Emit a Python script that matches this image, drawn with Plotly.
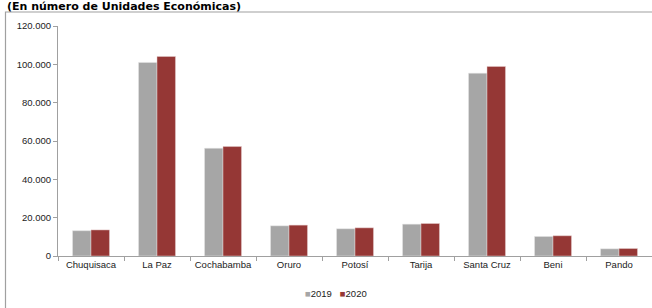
import plotly.graph_objects as go

categories = ["Chuquisaca", "La Paz", "Cochabamba", "Oruro", "Potosí", "Tarija", "Santa Cruz", "Beni", "Pando"]
values_2019 = [13200, 101000, 56200, 15750, 14200, 16600, 95400, 10200, 3750]
values_2020 = [13600, 104100, 57100, 16100, 14700, 16950, 98900, 10550, 3900]
y_ticks = [0, 20000, 40000, 60000, 80000, 100000, 120000]
series_names = ["2019", "2020"]
series_colors = ["#A6A6A6", "#953735"]

W, H = 652, 308
L, R, T, B = 58, 0, 26, 52
pw, ph = W - L - R, H - T - B

def px_x(x):
    return (x - L) / pw

def px_y(y):
    return (H - B - y) / ph

fig = go.Figure()
for name, vals, col, edge in zip(series_names, [values_2019, values_2020], series_colors,
                                 ["#E6E6E6", "#E6CFCF"]):
    fig.add_trace(go.Bar(x=categories, y=vals, name=name,
                         marker=dict(color=col, line=dict(color=edge, width=0.5))))

font_axis = dict(family="Liberation Sans, Arial, sans-serif", size=9.5, color="#222222")

fig.update_layout(
    width=W, height=H,
    margin=dict(l=L, r=R, t=T, b=B, pad=0, autoexpand=False),
    paper_bgcolor="white", plot_bgcolor="white",
    separators=",.",
    barmode="group", bargap=0.44, bargroupgap=0,
    showlegend=False,
    xaxis=dict(type="category", tickson="boundaries", ticks="outside", ticklen=4,
               tickcolor="#A0A0A0", showline=True, linecolor="#A0A0A0", linewidth=1,
               showgrid=False, tickfont=font_axis, tickangle=0, automargin=False,
               fixedrange=True),
    yaxis=dict(range=[0, 120000], tickvals=y_ticks, tickformat=",d", ticks="outside",
               ticklen=4, tickcolor="#A0A0A0", showline=True, linecolor="#A0A0A0",
               linewidth=1, showgrid=False, zeroline=False, tickfont=font_axis,
               automargin=False, fixedrange=True),
    font=font_axis,
)

fig.add_shape(type="rect", xref="paper", yref="paper",
              x0=px_x(5.5), x1=px_x(700), y0=px_y(12), y1=px_y(400),
              line=dict(color="#A0A0A0", width=1.2), fillcolor="rgba(0,0,0,0)", layer="below")

fig.add_annotation(text="<b>(En número de Unidades Económicas)</b>", xref="paper", yref="paper",
                   x=px_x(5), y=px_y(6), xanchor="left", yanchor="middle", showarrow=False,
                   font=dict(family="DejaVu Sans, Verdana, sans-serif", size=11, color="#000000"))

legend_text = "&nbsp;&nbsp;&nbsp;".join(
    f"<span style='color:{c}'>■</span>{n}" for n, c in zip(series_names, series_colors))
fig.add_annotation(text=legend_text, xref="paper", yref="paper",
                   x=px_x(303), y=px_y(293), xanchor="left", yanchor="middle", showarrow=False,
                   font=dict(family="Liberation Sans, Arial, sans-serif", size=9.5, color="#222222"))

fig.write_html("out.html", config={"displayModeBar": False},
               post_script="document.body.style.margin='0';")
